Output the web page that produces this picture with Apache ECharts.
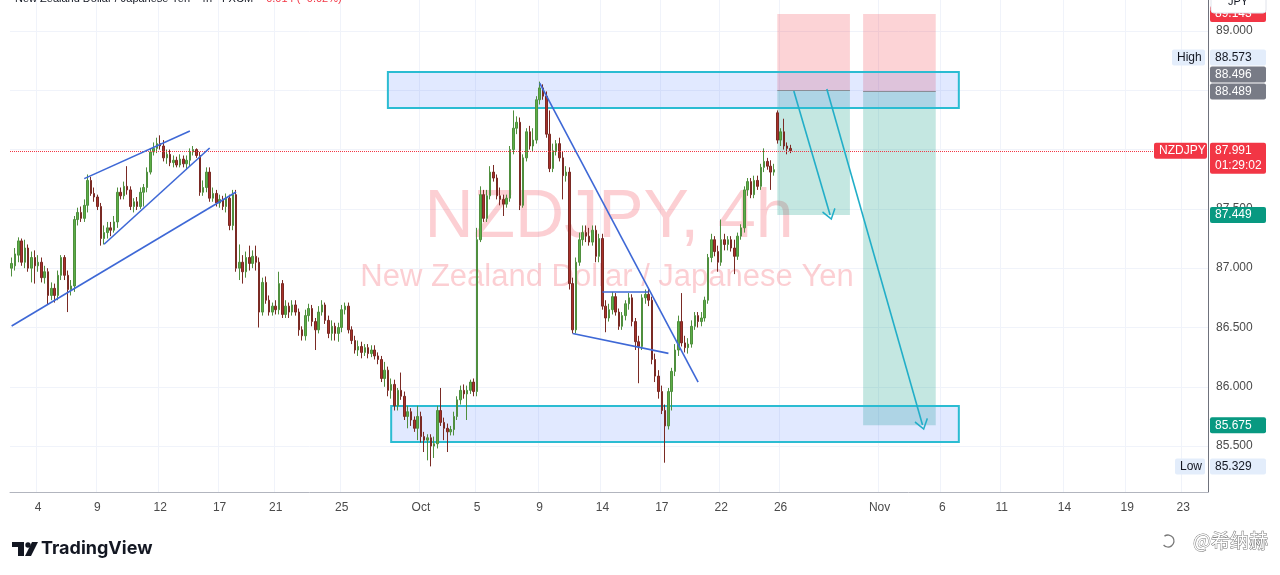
<!DOCTYPE html>
<html>
<head>
<meta charset="utf-8">
<style>
  html, body { margin: 0; padding: 0; background: #fff; }
  #main { width: 1280px; height: 575px; }
</style>
<script src="https://cdn.jsdelivr.net/npm/echarts@6/dist/echarts.min.js"></script>
</head>
<body>
<div id="main"></div>
<script>
// 4h candles [open, close, low, high]
const candles = [
  [87.00,87.04,86.93,87.09],[87.02,87.12,86.98,87.17],[87.11,87.23,87.05,87.26],[87.23,87.05,87.02,87.25],[87.05,87.17,87.00,87.24],[87.17,87.00,86.97,87.20],[87.00,87.09,86.88,87.14],[87.09,87.02,86.87,87.15],[87.02,87.05,86.97,87.11],[87.05,86.92,86.88,87.09],
  [86.92,86.97,86.87,87.02],[86.97,86.77,86.69,87.00],[86.77,86.83,86.73,86.88],[86.83,86.77,86.71,86.87],[86.77,86.94,86.73,86.98],[86.94,87.09,86.90,87.11],[87.09,86.94,86.90,87.11],[86.94,86.82,86.63,86.98],[86.82,86.85,86.77,86.90],[86.85,87.41,86.80,87.44],
  [87.41,87.47,87.36,87.51],[87.47,87.42,87.39,87.52],[87.42,87.53,87.39,87.58],[87.53,87.74,87.47,87.79],[87.74,87.63,87.61,87.77],[87.63,87.60,87.56,87.68],[87.60,87.52,87.49,87.62],[87.52,87.25,87.19,87.55],[87.25,87.30,87.20,87.36],[87.30,87.34,87.25,87.39],
  [87.34,87.32,87.27,87.39],[87.32,87.39,87.30,87.44],[87.39,87.64,87.34,87.68],[87.64,87.61,87.58,87.68],[87.61,87.69,87.58,87.73],[87.69,87.66,87.62,87.86],[87.66,87.52,87.49,87.69],[87.52,87.56,87.47,87.59],[87.56,87.52,87.49,87.60],[87.52,87.64,87.50,87.68],
  [87.64,87.68,87.52,87.71],[87.68,87.81,87.64,87.85],[87.81,87.98,87.79,88.01],[87.98,88.01,87.95,88.06],[88.01,88.05,87.97,88.10],[88.05,88.03,88.00,88.12],[88.03,87.93,87.90,88.08],[87.93,87.96,87.88,88.00],[87.96,87.89,87.86,88.00],[87.89,87.91,87.85,87.95],
  [87.91,87.87,87.85,87.94],[87.87,87.92,87.85,87.96],[87.92,87.88,87.85,87.95],[87.88,87.91,87.83,87.95],[87.91,87.98,87.86,88.01],[87.98,88.00,87.95,88.03],[88.00,87.95,87.93,88.01],[87.95,87.64,87.61,87.98],[87.64,87.68,87.61,87.74],[87.68,87.81,87.64,87.85],
  [87.81,87.59,87.56,87.85],[87.59,87.63,87.56,87.68],[87.63,87.55,87.52,87.66],[87.55,87.58,87.51,87.62],[87.58,87.52,87.49,87.61],[87.52,87.59,87.47,87.63],[87.59,87.36,87.32,87.62],[87.36,87.62,87.32,87.66],[87.62,87.00,86.97,87.66],[87.00,87.05,86.90,87.20],
  [87.05,86.97,86.87,87.11],[86.97,87.09,86.92,87.14],[87.09,87.04,86.98,87.19],[87.04,87.10,87.00,87.15],[87.10,87.05,86.98,87.19],[87.05,86.63,86.50,87.09],[86.63,86.88,86.60,86.92],[86.88,86.73,86.70,86.93],[86.73,86.63,86.60,86.77],[86.63,86.68,86.60,86.71],
  [86.68,86.65,86.61,86.73],[86.65,86.87,86.61,86.97],[86.87,86.61,86.58,86.90],[86.61,86.68,86.58,86.73],[86.68,86.63,86.58,86.71],[86.63,86.69,86.60,86.73],[86.69,86.63,86.60,86.73],[86.63,86.48,86.43,86.66],[86.48,86.43,86.39,86.51],[86.43,86.60,86.39,86.65],
  [86.60,86.66,86.55,86.70],[86.66,86.55,86.51,86.69],[86.55,86.48,86.31,86.58],[86.48,86.63,86.45,86.68],[86.63,86.69,86.60,86.73],[86.69,86.56,86.53,86.71],[86.56,86.45,86.41,86.60],[86.45,86.51,86.39,86.56],[86.51,86.45,86.39,86.54],[86.45,86.50,86.38,86.54],
  [86.50,86.65,86.46,86.69],[86.65,86.68,86.61,86.71],[86.68,86.48,86.45,86.71],[86.48,86.39,86.36,86.51],[86.39,86.31,86.28,86.43],[86.31,86.34,86.26,86.39],[86.34,86.29,86.24,86.38],[86.29,86.33,86.26,86.36],[86.33,86.28,86.24,86.36],[86.28,86.31,86.25,86.35],
  [86.31,86.26,86.23,86.35],[86.26,86.23,86.19,86.29],[86.23,86.07,86.04,86.26],[86.07,86.14,86.00,86.21],[86.14,85.97,85.92,86.17],[85.97,86.02,85.90,86.07],[86.02,85.84,85.80,86.06],[85.84,85.97,85.80,85.99],[85.97,85.92,85.89,86.12],[85.92,85.75,85.72,85.96],
  [85.75,85.79,85.65,85.84],[85.79,85.72,85.67,85.82],[85.72,85.65,85.62,85.75],[85.65,85.75,85.55,85.84],[85.75,85.58,85.53,85.79],[85.58,85.55,85.45,85.62],[85.55,85.57,85.38,85.60],[85.57,85.50,85.329,85.60],[85.50,85.52,85.40,85.58],[85.52,85.80,85.48,85.84],
  [85.80,85.70,85.67,85.99],[85.70,85.65,85.55,85.74],[85.65,85.62,85.45,85.69],[85.62,85.64,85.59,85.67],[85.64,85.75,85.59,85.79],[85.75,85.89,85.72,85.92],[85.89,85.97,85.85,86.01],[85.97,85.94,85.90,86.02],[85.94,85.97,85.72,86.01],[85.97,86.04,85.94,86.06],
  [86.04,85.96,85.92,86.07],[85.96,87.24,85.92,87.34],[87.24,87.62,87.22,87.69],[87.62,87.42,87.39,87.66],[87.42,87.61,87.39,87.66],[87.61,87.81,87.58,87.86],[87.81,87.76,87.73,87.87],[87.76,87.61,87.58,87.79],[87.61,87.58,87.53,87.68],[87.58,87.54,87.44,87.62],
  [87.54,87.59,87.51,87.62],[87.59,88.00,87.56,88.03],[88.00,88.18,87.96,88.33],[88.18,88.23,88.13,88.28],[88.23,87.53,87.49,88.27],[87.53,87.93,87.51,87.96],[87.93,88.15,87.90,88.18],[88.15,88.03,88.00,88.20],[88.03,88.08,87.98,88.18],[88.08,88.42,88.05,88.45],
  [88.42,88.52,88.38,88.573],[88.52,88.45,88.42,88.55],[88.45,88.13,88.10,88.49],[88.13,87.84,87.81,88.33],[87.84,87.99,87.81,88.05],[87.99,88.05,87.95,88.08],[88.05,87.93,87.90,88.10],[87.93,87.78,87.58,87.98],[87.78,87.81,87.73,87.86],[87.81,86.87,86.82,87.85],
  [86.87,86.48,86.45,86.92],[86.48,87.05,86.45,87.09],[87.05,87.24,87.02,87.30],[87.24,87.30,87.19,87.36],[87.30,87.27,87.22,87.36],[87.27,87.22,87.19,87.34],[87.22,87.32,87.19,87.36],[87.32,87.10,87.05,87.36],[87.10,87.25,87.05,87.29],[87.25,86.68,86.65,87.29],
  [86.68,86.58,86.46,86.73],[86.58,86.65,86.55,86.70],[86.65,86.76,86.61,86.80],[86.76,86.63,86.60,86.79],[86.63,86.51,86.48,86.66],[86.51,86.60,86.48,86.63],[86.60,86.70,86.56,86.73],[86.70,86.75,86.65,86.79],[86.75,86.55,86.51,86.78],[86.55,86.38,86.31,86.58],
  [86.38,86.34,86.03,86.43],[86.34,86.75,86.31,86.78],[86.75,86.78,86.70,86.82],[86.78,86.73,86.68,86.83],[86.73,86.23,86.19,86.76],[86.23,86.09,86.04,86.28],[86.09,85.96,85.90,86.14],[85.96,85.80,85.77,86.01],[85.80,85.67,85.36,85.85],[85.67,85.96,85.64,85.99],
  [85.96,86.13,85.80,86.16],[86.13,86.31,86.09,86.36],[86.31,86.55,86.26,86.60],[86.55,86.37,86.34,86.79],[86.37,86.33,86.29,86.43],[86.33,86.36,86.28,86.41],[86.36,86.51,86.33,86.56],[86.51,86.60,86.48,86.63],[86.60,86.55,86.50,86.63],[86.55,86.58,86.51,86.63],
  [86.58,86.73,86.55,86.76],[86.73,87.09,86.70,87.12],[87.09,87.24,87.05,87.29],[87.24,87.14,87.10,87.27],[87.14,87.05,86.97,87.19],[87.05,87.24,87.02,87.41],[87.24,87.20,87.15,87.29],[87.20,87.24,87.15,87.27],[87.24,87.17,87.14,87.27],[87.17,87.10,86.95,87.24],
  [87.10,87.27,87.07,87.30],[87.27,87.34,87.24,87.37],[87.34,87.66,87.30,87.69],[87.66,87.73,87.61,87.76],[87.73,87.62,87.59,87.76],[87.62,87.74,87.59,87.78],[87.74,87.69,87.66,87.78],[87.69,87.85,87.66,87.88],[87.85,87.90,87.81,88.01],[87.90,87.86,87.83,87.93],
  [87.86,87.81,87.66,87.91],[87.81,87.83,87.78,87.88],[88.31,88.08,88.05,88.33],[88.08,88.15,88.03,88.18],[88.15,88.03,88.00,88.26],[88.03,88.01,87.96,88.06],[88.01,87.991,87.97,88.04]
];

const totalBars = 363; // bars incl. empty future space
const tickBars   = [8, 26, 45, 63, 80, 100, 124, 141, 160, 179, 197, 215, 233, 263, 282, 300, 319, 338, 355];
const tickLabels = ['4','9','12','17','21','25','Oct','5','9','14','17','22','26','Nov','6','11','14','19','23'];
const priceTicks = [85.5, 86, 86.5, 87, 87.5, 88, 88.5, 89];

const lastPrice = 87.991;
const highPrice = 88.573;
const lowPrice = 85.329;
const stopPrice = 89.143;

// [fromBar, toBar, topPrice, bottomPrice]
const zones = [[114, 287, 88.654, 88.351], [115, 287, 85.838, 85.535]];
// [fromBar, fromPrice, toBar, toPrice]
const trendLines = [
  [0, 86.513, 68, 87.642],
  [22, 87.755, 54, 88.157],
  [28, 87.202, 60, 88.013],
  [160, 88.56, 208, 86.04],
  [170, 86.45, 199, 86.282],
  [179, 86.802, 193, 86.802]
];
// short positions: [fromBar, toBar, entry, target]
const shorts = [[232, 254, 88.496, 87.449], [258, 280, 88.489, 85.675]];
const arrows = [[237, 88.494, 248, 87.449], [247, 88.511, 276, 85.678]];

const FONT = "'Liberation Sans', Arial, sans-serif";
const categories = Array.from({ length: totalBars }, (_, i) => String(i));
const tickAt = {};
tickBars.forEach((b, k) => { tickAt[b] = tickLabels[k]; });

const chart = echarts.init(document.getElementById('main'));

const lines = [];
lines.push({ yAxis: lastPrice, lineStyle: { color: '#f23645', type: 'dotted', width: 1 } });
trendLines.forEach(t => {
  lines.push([{ coord: [t[0], t[1]], lineStyle: { color: '#3e68d6', width: 1.6, type: 'solid' } }, { coord: [t[2], t[3]] }]);
});
shorts.forEach(s => {
  lines.push([{ coord: [s[0], s[2]], lineStyle: { color: '#8a8d96', width: 1, type: 'solid' } }, { coord: [s[1], s[2]] }]);
});
arrows.forEach(a => {
  lines.push([
    { coord: [a[0], a[1]], lineStyle: { color: '#22aec8', width: 1.6, type: 'solid' } },
    { coord: [a[2], a[3]], symbol: 'path://M0,0 L10,13 L8.4,14.4 L0,3.4 L-8.4,14.4 L-10,13 Z', symbolSize: [14, 11] }
  ]);
});

const areas = [];
shorts.forEach(s => {
  areas.push([{ coord: [s[0], stopPrice], itemStyle: { color: 'rgba(242,54,69,0.22)' } }, { coord: [s[1], s[2]] }]);
  areas.push([{ coord: [s[0], s[2]], itemStyle: { color: 'rgba(8,153,129,0.24)' } }, { coord: [s[1], s[3]] }]);
});
zones.forEach(z => {
  areas.push([{ coord: [z[0], z[2]], itemStyle: { color: 'rgba(41,98,255,0.14)', borderColor: '#2bbcd2', borderWidth: 2 } }, { coord: [z[1], z[3]] }]);
});

chart.setOption({
  animation: false,
  backgroundColor: '#ffffff',
  grid: { left: 10, right: 72, top: 0, bottom: 83 },
  xAxis: {
    type: 'category',
    data: categories,
    boundaryGap: true,
    axisLine: { show: true, lineStyle: { color: '#b2b5be' } },
    axisTick: { show: false },
    axisLabel: {
      interval: (i) => tickAt[i] !== undefined,
      formatter: (v, i) => tickAt[i] || '',
      color: '#4a4a4a', fontSize: 12, fontFamily: FONT, margin: 10
    },
    splitLine: { show: true, interval: (i) => tickAt[i] !== undefined, lineStyle: { color: '#f0f3fa' } }
  },
  yAxis: {
    type: 'value',
    position: 'right',
    min: 85.113,
    max: 89.261,
    axisLine: { show: true, lineStyle: { color: '#6f727c' } },
    axisTick: { show: false, customValues: priceTicks },
    axisLabel: { customValues: priceTicks, formatter: v => v.toFixed(3), color: '#4a4a4a', fontSize: 12, fontFamily: FONT, margin: 8 },
    splitLine: { show: true, lineStyle: { color: '#f0f3fa' } }
  },
  series: [{
    type: 'candlestick',
    data: candles,
    barWidth: 2,
    itemStyle: {
      color: '#5cae46', color0: '#a8302a',
      borderColor: '#4f8f3e', borderColor0: '#7a2a24', borderWidth: 1
    },
    markArea: { silent: true, data: areas },
    markLine: { silent: true, symbol: ['none', 'none'], label: { show: false }, data: lines }
  }]
});

// price tags, watermark and branding
const TOP = 100;
function py(p) { return chart.convertToPixel({ yAxisIndex: 0 }, p); }
function box(x, y, w, h, fill, extra) {
  return Object.assign({ type: 'rect', z: TOP, shape: { x: x, y: y, width: w, height: h, r: 2 }, style: { fill: fill } }, extra || {});
}
function txt(x, y, text, fill, font, extra) {
  return { type: 'text', z: TOP + 1, x: x, y: y, style: Object.assign({ text: text, fill: fill, font: font, verticalAlign: 'middle' }, extra || {}) };
}
function tag(y, text, bg, fg, x, w) {
  return [box(x, y - 8, w, 16, bg), txt(x + 5, y, text, fg, '12px ' + FONT)];
}
let g = [];
const AX = 1210, AW = 56;
const yEntry2 = py(shorts[1][2]);
g = g.concat(tag(py(stopPrice), stopPrice.toFixed(3), '#f23645', '#fff', AX, AW));
g.push(box(1211, -8, 55, 21, '#fff', { z: TOP + 2, style: { fill: '#fff', stroke: '#e0e3eb' }, shape: { x: 1211, y: -8, width: 55, height: 21, r: 3 } }));
g.push(txt(1238, 2, 'JPY', '#131722', '11px ' + FONT, { align: 'center' }));
g[g.length - 1].z = TOP + 3;
g = g.concat(tag(yEntry2 - 34, highPrice.toFixed(3), '#e3edfb', '#131722', AX, AW));
g = g.concat(tag(yEntry2 - 34, 'High', '#e3edfb', '#131722', 1172, 33));
g = g.concat(tag(yEntry2 - 17, shorts[0][2].toFixed(3), '#787b86', '#fff', AX, AW));
g = g.concat(tag(yEntry2, shorts[1][2].toFixed(3), '#787b86', '#fff', AX, AW));
const yLast = py(lastPrice);
g.push(box(AX, yLast - 8, AW, 31, '#f23645'));
g.push(txt(AX + 5, yLast, lastPrice.toFixed(3), '#fff', '12px ' + FONT));
g.push(txt(AX + 5, yLast + 15, '01:29:02', '#fff', '12px ' + FONT));
g = g.concat(tag(yLast, 'NZDJPY', '#f23645', '#fff', 1154, 53));
g = g.concat(tag(py(shorts[0][3]), shorts[0][3].toFixed(3), '#089981', '#fff', AX, AW));
g = g.concat(tag(py(shorts[1][3]), shorts[1][3].toFixed(3), '#089981', '#fff', AX, AW));
g = g.concat(tag(py(lowPrice), lowPrice.toFixed(3), '#e3edfb', '#131722', AX, AW));
g = g.concat(tag(py(lowPrice), 'Low', '#e3edfb', '#131722', 1175, 30));

// watermark
g.push({ type: 'text', z: 0, x: 609, y: 218, style: { text: 'NZDJPY, 4h', fill: 'rgba(242,54,69,0.24)', font: '68px ' + FONT, align: 'center', verticalAlign: 'middle' } });
g.push({ type: 'text', z: 0, x: 607, y: 277, style: { text: 'New Zealand Dollar / Japanese Yen', fill: 'rgba(242,54,69,0.24)', font: '31px ' + FONT, align: 'center', verticalAlign: 'middle' } });

// header (cropped at top)
g.push({ type: 'text', z: TOP, x: 15, y: -1, style: {
  text: '{a|New Zealand Dollar / Japanese Yen · 4h · FXCM}  {b|−0.014 (−0.02%)}',
  verticalAlign: 'middle',
  rich: { a: { fill: '#131722', font: '11px ' + FONT }, b: { fill: '#f23645', font: '11px ' + FONT } }
} });

// TradingView logo
g.push({ type: 'polygon', z: TOP, shape: { points: [[12, 542], [24, 542], [24, 556], [18, 556], [18, 547], [12, 547]] }, style: { fill: '#131722' } });
g.push({ type: 'circle', z: TOP, shape: { cx: 28, cy: 545, r: 2.7 }, style: { fill: '#131722' } });
g.push({ type: 'polygon', z: TOP, shape: { points: [[32, 542], [38, 542], [31, 556], [25, 556]] }, style: { fill: '#131722' } });
g.push({ type: 'text', z: TOP, x: 41, y: 549, style: { text: 'TradingView', fill: '#131722', font: 'bold 18px Inter, ' + FONT, verticalAlign: 'middle' } });

// author mark
g.push({ type: 'arc', z: TOP, shape: { cx: 1168, cy: 541, r: 6, startAngle: -2.2, endAngle: 2.4 }, style: { stroke: '#777', fill: 'none', lineWidth: 1.3 } });
g.push({ type: 'text', z: TOP, x: 1193, y: 541, style: { text: '@希纳赫', fill: '#fff', stroke: '#777', lineWidth: 1, font: '19px "Noto Sans CJK SC", sans-serif', verticalAlign: 'middle' } });

chart.setOption({ graphic: g });
</script>
</body>
</html>
